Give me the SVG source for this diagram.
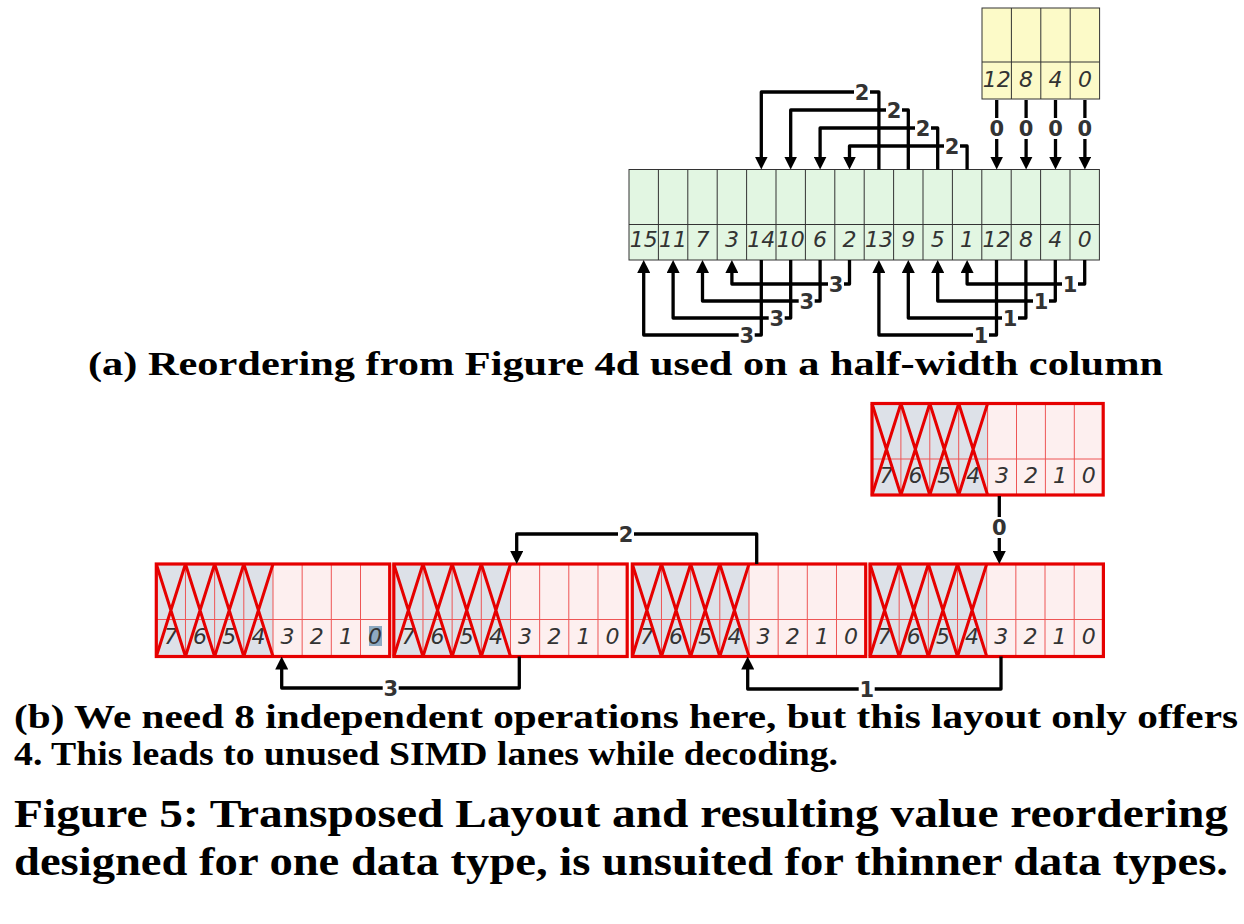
<svg xmlns="http://www.w3.org/2000/svg" width="1244" height="924" viewBox="0 0 1244 924">
<style>
.bg{fill:#ffffff}
.green{fill:#e2f6e2;stroke:#333;stroke-width:1}
.yellow{fill:#fcfac8;stroke:#333;stroke-width:1}
.gl{stroke:#333;stroke-width:1;fill:none}
.d{font-family:"DejaVu Sans",Verdana,sans-serif;font-style:italic;font-size:22px;fill:#333;text-anchor:middle}
.gray{fill:#dde1e8}
.pink{fill:#fdefef}
.rin{stroke:#ee5555;stroke-width:1;fill:none}
.rout{stroke:#e60000;stroke-width:3.2;fill:none}
.x{stroke:#e60000;stroke-width:3;fill:none}
.a{stroke:#000;stroke-width:3.3;fill:none;stroke-linejoin:round;marker-end:url(#ah)}
.lb{fill:#fff}
.lt{font-family:"DejaVu Sans",Verdana,sans-serif;font-weight:bold;font-size:21px;fill:#333;text-anchor:middle}
.cap{font-family:"Liberation Serif","Times New Roman",serif;font-weight:bold;fill:#000}
</style>
<defs>
<marker id="ah" viewBox="0 0 13 13" markerWidth="13" markerHeight="13" refX="4" refY="6.5" orient="auto" markerUnits="userSpaceOnUse">
<path d="M0,0 L13,6.5 L0,13 z" fill="#000"/>
</marker>
</defs>
<rect class="bg" x="0" y="0" width="1244" height="924"/>

<!-- (a) yellow source -->
<g id="a-yellow">
<rect class="yellow" x="982" y="8" width="117.6" height="91"/>
<path class="gl" d="M982,62 H1099.6 M1011.4,8 V99 M1040.8,8 V99 M1070.2,8 V99"/>
<text class="d" x="996.7" y="87">12</text>
<text class="d" x="1026.1" y="87">8</text>
<text class="d" x="1055.5" y="87">4</text>
<text class="d" x="1084.9" y="87">0</text>
</g>

<!-- (a) green register -->
<g id="a-green">
<rect class="green" x="629" y="169.5" width="470.4" height="90.5"/>
<path class="gl" d="M629,224.5 H1099.4 M658.4,169.5 V260 M687.8,169.5 V260 M717.2,169.5 V260 M746.6,169.5 V260 M776,169.5 V260 M805.4,169.5 V260 M834.8,169.5 V260 M864.2,169.5 V260 M893.6,169.5 V260 M923,169.5 V260 M952.4,169.5 V260 M981.8,169.5 V260 M1011.2,169.5 V260 M1040.6,169.5 V260 M1070,169.5 V260"/>
<text class="d" x="643.7" y="247">15</text>
<text class="d" x="673.1" y="247">11</text>
<text class="d" x="702.5" y="247">7</text>
<text class="d" x="731.9" y="247">3</text>
<text class="d" x="761.3" y="247">14</text>
<text class="d" x="790.7" y="247">10</text>
<text class="d" x="820.1" y="247">6</text>
<text class="d" x="849.5" y="247">2</text>
<text class="d" x="878.9" y="247">13</text>
<text class="d" x="908.3" y="247">9</text>
<text class="d" x="937.7" y="247">5</text>
<text class="d" x="967.1" y="247">1</text>
<text class="d" x="996.5" y="247">12</text>
<text class="d" x="1025.9" y="247">8</text>
<text class="d" x="1055.3" y="247">4</text>
<text class="d" x="1084.7" y="247">0</text>
</g>

<!-- (b) top register -->
<g id="b-top">
<rect class="gray" x="872" y="403.5" width="115.6" height="91.5"/>
<rect class="pink" x="987.6" y="403.5" width="115.6" height="91.5"/>
<path class="rin" d="M872,459 H1103.2 M900.9,403.5 V495 M929.8,403.5 V495 M958.7,403.5 V495 M987.6,403.5 V495 M1016.5,403.5 V495 M1045.4,403.5 V495 M1074.3,403.5 V495"/>
<text class="d" x="886.5" y="483">7</text>
<text class="d" x="915.4" y="483">6</text>
<text class="d" x="944.3" y="483">5</text>
<text class="d" x="973.2" y="483">4</text>
<text class="d" x="1002.1" y="483">3</text>
<text class="d" x="1031" y="483">2</text>
<text class="d" x="1059.9" y="483">1</text>
<text class="d" x="1088.8" y="483">0</text>
<path class="x" d="M872,403.5 L900.9,495 M900.9,403.5 L872,495 M900.9,403.5 L929.8,495 M929.8,403.5 L900.9,495 M929.8,403.5 L958.7,495 M958.7,403.5 L929.8,495 M958.7,403.5 L987.6,495 M987.6,403.5 L958.7,495"/>
<rect class="rout" x="872" y="403.5" width="231.2" height="91.5"/>
</g>

<!-- (b) bottom registers -->
<g id="b-reg1" transform="translate(156.3,0)">
<rect class="gray" x="0" y="564" width="116.7" height="92.5"/>
<rect class="pink" x="116.7" y="564" width="116.7" height="92.5"/>
<rect x="212.7" y="626" width="13" height="20" fill="#8ea9c1"/>
<path class="rin" d="M0,619.5 H233.4 M29.17,564 V656.5 M58.34,564 V656.5 M87.51,564 V656.5 M116.7,564 V656.5 M145.85,564 V656.5 M175,564 V656.5 M204.2,564 V656.5"/>
<text class="d" x="14.6" y="644">7</text>
<text class="d" x="43.8" y="644">6</text>
<text class="d" x="72.9" y="644">5</text>
<text class="d" x="102.1" y="644">4</text>
<text class="d" x="131.3" y="644">3</text>
<text class="d" x="160.4" y="644">2</text>
<text class="d" x="189.6" y="644">1</text>
<text class="d" x="218.8" y="644">0</text>
<path class="x" d="M0,564 L29.17,656.5 M29.17,564 L0,656.5 M29.17,564 L58.34,656.5 M58.34,564 L29.17,656.5 M58.34,564 L87.51,656.5 M87.51,564 L58.34,656.5 M87.51,564 L116.7,656.5 M116.7,564 L87.51,656.5"/>
<rect class="rout" x="0" y="564" width="233.4" height="92.5"/>
</g>
<g id="b-reg2" transform="translate(393.8,0)">
<rect class="gray" x="0" y="564" width="116.7" height="92.5"/>
<rect class="pink" x="116.7" y="564" width="116.7" height="92.5"/>
<path class="rin" d="M0,619.5 H233.4 M29.17,564 V656.5 M58.34,564 V656.5 M87.51,564 V656.5 M116.7,564 V656.5 M145.85,564 V656.5 M175,564 V656.5 M204.2,564 V656.5"/>
<text class="d" x="14.6" y="644">7</text>
<text class="d" x="43.8" y="644">6</text>
<text class="d" x="72.9" y="644">5</text>
<text class="d" x="102.1" y="644">4</text>
<text class="d" x="131.3" y="644">3</text>
<text class="d" x="160.4" y="644">2</text>
<text class="d" x="189.6" y="644">1</text>
<text class="d" x="218.8" y="644">0</text>
<path class="x" d="M0,564 L29.17,656.5 M29.17,564 L0,656.5 M29.17,564 L58.34,656.5 M58.34,564 L29.17,656.5 M58.34,564 L87.51,656.5 M87.51,564 L58.34,656.5 M87.51,564 L116.7,656.5 M116.7,564 L87.51,656.5"/>
<rect class="rout" x="0" y="564" width="233.4" height="92.5"/>
</g>
<g id="b-reg3" transform="translate(632.3,0)">
<rect class="gray" x="0" y="564" width="116.7" height="92.5"/>
<rect class="pink" x="116.7" y="564" width="116.7" height="92.5"/>
<path class="rin" d="M0,619.5 H233.4 M29.17,564 V656.5 M58.34,564 V656.5 M87.51,564 V656.5 M116.7,564 V656.5 M145.85,564 V656.5 M175,564 V656.5 M204.2,564 V656.5"/>
<text class="d" x="14.6" y="644">7</text>
<text class="d" x="43.8" y="644">6</text>
<text class="d" x="72.9" y="644">5</text>
<text class="d" x="102.1" y="644">4</text>
<text class="d" x="131.3" y="644">3</text>
<text class="d" x="160.4" y="644">2</text>
<text class="d" x="189.6" y="644">1</text>
<text class="d" x="218.8" y="644">0</text>
<path class="x" d="M0,564 L29.17,656.5 M29.17,564 L0,656.5 M29.17,564 L58.34,656.5 M58.34,564 L29.17,656.5 M58.34,564 L87.51,656.5 M87.51,564 L58.34,656.5 M87.51,564 L116.7,656.5 M116.7,564 L87.51,656.5"/>
<rect class="rout" x="0" y="564" width="233.4" height="92.5"/>
</g>
<g id="b-reg4" transform="translate(870,0)">
<rect class="gray" x="0" y="564" width="116.7" height="92.5"/>
<rect class="pink" x="116.7" y="564" width="116.7" height="92.5"/>
<path class="rin" d="M0,619.5 H233.4 M29.17,564 V656.5 M58.34,564 V656.5 M87.51,564 V656.5 M116.7,564 V656.5 M145.85,564 V656.5 M175,564 V656.5 M204.2,564 V656.5"/>
<text class="d" x="14.6" y="644">7</text>
<text class="d" x="43.8" y="644">6</text>
<text class="d" x="72.9" y="644">5</text>
<text class="d" x="102.1" y="644">4</text>
<text class="d" x="131.3" y="644">3</text>
<text class="d" x="160.4" y="644">2</text>
<text class="d" x="189.6" y="644">1</text>
<text class="d" x="218.8" y="644">0</text>
<path class="x" d="M0,564 L29.17,656.5 M29.17,564 L0,656.5 M29.17,564 L58.34,656.5 M58.34,564 L29.17,656.5 M58.34,564 L87.51,656.5 M87.51,564 L58.34,656.5 M87.51,564 L116.7,656.5 M116.7,564 L87.51,656.5"/>
<rect class="rout" x="0" y="564" width="233.4" height="92.5"/>
</g>

<!-- connectors -->
<g id="connectors">
<path class="a" d="M996.7,100 V160.5"/>
<path class="a" d="M1026.1,100 V160.5"/>
<path class="a" d="M1055.5,100 V160.5"/>
<path class="a" d="M1084.9,100 V160.5"/>
<path class="a" d="M878.9,169.5 V92 H761.3 V160.5"/>
<path class="a" d="M908.3,169.5 V110 H790.7 V160.5"/>
<path class="a" d="M937.7,169.5 V128 H820.1 V160.5"/>
<path class="a" d="M967.1,169.5 V146 H849.5 V160.5"/>
<path class="a" d="M761.3,260 V335 H643.7 V269"/>
<path class="a" d="M790.7,260 V318 H673.1 V269"/>
<path class="a" d="M820.1,260 V301 H702.5 V269"/>
<path class="a" d="M849.5,260 V284 H731.9 V269"/>
<path class="a" d="M996.5,260 V335 H878.9 V269"/>
<path class="a" d="M1025.9,260 V318 H908.3 V269"/>
<path class="a" d="M1055.3,260 V301 H937.7 V269"/>
<path class="a" d="M1084.7,260 V284 H967.1 V269"/>
<path class="a" d="M999.3,496 V555"/>
<path class="a" d="M756.7,564 V534 H516.7 V555"/>
<path class="a" d="M519.3,656.5 V688 H281.7 V665.5"/>
<path class="a" d="M1001,656.5 V689 H747.7 V665.5"/>

<rect class="lb" x="988.7" y="118" width="16" height="21"/><text class="lt" x="996.7" y="136">0</text>
<rect class="lb" x="1018.1" y="118" width="16" height="21"/><text class="lt" x="1026.1" y="136">0</text>
<rect class="lb" x="1047.5" y="118" width="16" height="21"/><text class="lt" x="1055.5" y="136">0</text>
<rect class="lb" x="1076.9" y="118" width="16" height="21"/><text class="lt" x="1084.9" y="136">0</text>

<rect class="lb" x="854" y="83" width="16" height="18"/><text class="lt" x="862" y="99.5">2</text>
<rect class="lb" x="886" y="101" width="16" height="18"/><text class="lt" x="894" y="117.5">2</text>
<rect class="lb" x="915" y="119" width="16" height="18"/><text class="lt" x="923" y="135.5">2</text>
<rect class="lb" x="944" y="137" width="16" height="18"/><text class="lt" x="952" y="153.5">2</text>

<rect class="lb" x="738.7" y="326" width="16" height="18"/><text class="lt" x="746.7" y="342.5">3</text>
<rect class="lb" x="768.7" y="309" width="16" height="18"/><text class="lt" x="776.7" y="325.5">3</text>
<rect class="lb" x="798.7" y="292" width="16" height="18"/><text class="lt" x="806.7" y="308.5">3</text>
<rect class="lb" x="828" y="275" width="16" height="18"/><text class="lt" x="836" y="291.5">3</text>

<rect class="lb" x="973" y="326" width="16" height="18"/><text class="lt" x="981" y="342.5">1</text>
<rect class="lb" x="1002" y="309" width="16" height="18"/><text class="lt" x="1010" y="325.5">1</text>
<rect class="lb" x="1033" y="292" width="16" height="18"/><text class="lt" x="1041" y="308.5">1</text>
<rect class="lb" x="1062" y="275" width="16" height="18"/><text class="lt" x="1070" y="291.5">1</text>

<rect class="lb" x="991.3" y="517" width="16" height="21"/><text class="lt" x="999.3" y="535">0</text>
<rect class="lb" x="618" y="525" width="16" height="18"/><text class="lt" x="626" y="541.5">2</text>
<rect class="lb" x="382.7" y="679" width="16" height="18"/><text class="lt" x="390.7" y="695.5">3</text>
<rect class="lb" x="858.7" y="680" width="16" height="18"/><text class="lt" x="866.7" y="696.5">1</text>
</g>

<!-- captions -->
<text class="cap" x="88" y="375" font-size="34" textLength="1075" lengthAdjust="spacingAndGlyphs">(a) Reordering from Figure 4d used on a half-width column</text>
<text class="cap" x="14" y="728" font-size="34" textLength="1224" lengthAdjust="spacingAndGlyphs">(b) We need 8 independent operations here, but this layout only offers</text>
<text class="cap" x="14" y="765" font-size="34" textLength="824" lengthAdjust="spacingAndGlyphs">4. This leads to unused SIMD lanes while decoding.</text>
<text class="cap" x="14" y="827" font-size="40" textLength="1214" lengthAdjust="spacingAndGlyphs">Figure 5: Transposed Layout and resulting value reordering</text>
<text class="cap" x="14" y="875" font-size="40" textLength="1214" lengthAdjust="spacingAndGlyphs">designed for one data type, is unsuited for thinner data types.</text>
</svg>
